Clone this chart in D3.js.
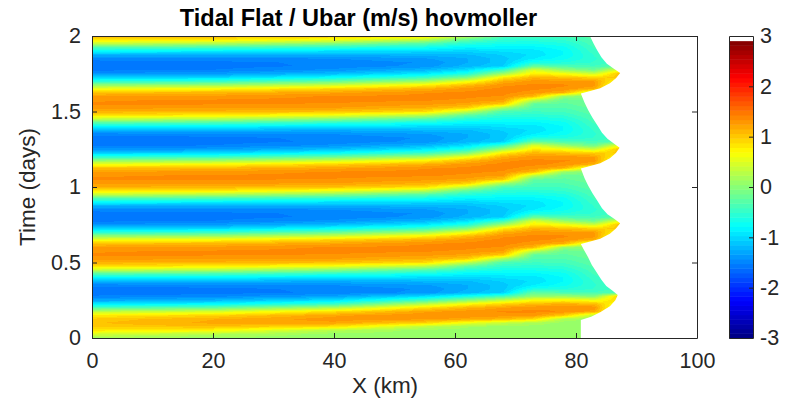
<!DOCTYPE html>
<meta charset="utf-8">
<style>
body { margin: 0; background: #fff; }
text { font-family: "Liberation Sans", Arial, Helvetica, sans-serif; fill: #262626; }
.axis { color: #262626; }
.axis text { font-size: 21.5px; fill: #262626; }
.title { font-size: 23.5px; font-weight: bold; fill: #000; }
.label { font-size: 22.5px; }
</style>
<svg width="790" height="401"></svg>
<script src="https://d3js.org/d3.v7.min.js"></script>
<script>

// sample grid
var timeDays = [
  0, 0.025, 0.05, 0.075, 0.1, 0.125, 0.15, 0.175, 0.2, 0.225,
  0.25, 0.275, 0.3, 0.325, 0.35, 0.375, 0.4, 0.425, 0.45, 0.475,
  0.5, 0.525, 0.55, 0.575, 0.6, 0.625, 0.65, 0.675, 0.7, 0.725,
  0.75, 0.775, 0.8, 0.825, 0.85, 0.875, 0.9, 0.925, 0.95, 0.975,
  1, 1.025, 1.05, 1.075, 1.1, 1.125, 1.15, 1.175, 1.2, 1.225,
  1.25, 1.275, 1.3, 1.325, 1.35, 1.375, 1.4, 1.425, 1.45, 1.475,
  1.5, 1.525, 1.55, 1.575, 1.6, 1.625, 1.65, 1.675, 1.7, 1.725,
  1.75, 1.775, 1.8, 1.825, 1.85, 1.875, 1.9, 1.925, 1.95, 1.975,
  2
];
var xKm = [0, 20, 40, 55, 62, 68, 73, 78, 83, 88];

// ubar (m/s) along time at each x station
var ubarAt0km = [
  0.15, 0.45, 0.8, 1.0, 1.05, 1.0, 0.78, 0.3, -0.35, -0.9, -1.3, -1.5,
  -1.6, -1.57, -1.48, -1.2, -0.8, -0.3, 0.35, 0.85, 1.15, 1.28, 1.35, 1.33, 1.25, 1.05, 0.6, 0.05, -0.55, -1.05, -1.4, -1.55,
  -1.6, -1.57, -1.48, -1.2, -0.8, -0.3, 0.35, 0.85, 1.15, 1.28, 1.35, 1.33, 1.25, 1.05, 0.6, 0.05, -0.55, -1.05, -1.4, -1.55,
  -1.6, -1.57, -1.48, -1.2, -0.8, -0.3, 0.35, 0.85, 1.15, 1.28, 1.35, 1.33, 1.25, 1.05, 0.6, 0.05, -0.55, -1.05, -1.4, -1.55,
  -1.6, -1.57, -1.48, -1.2, -0.8, -0.3, 0.35, 0.85, 1.15
];
var ubarAt20km = [
  0.1, 0.25, 0.7, 1.05, 1.18, 1.15, 0.92, 0.45, -0.2, -0.8, -1.2, -1.45,
  -1.57, -1.55, -1.47, -1.22, -0.85, -0.38, 0.25, 0.8, 1.12, 1.27, 1.35, 1.35, 1.28, 1.1, 0.7, 0.12, -0.48, -1.0, -1.35, -1.52,
  -1.57, -1.55, -1.47, -1.22, -0.85, -0.38, 0.25, 0.8, 1.12, 1.27, 1.35, 1.35, 1.28, 1.1, 0.7, 0.12, -0.48, -1.0, -1.35, -1.52,
  -1.57, -1.55, -1.47, -1.22, -0.85, -0.38, 0.25, 0.8, 1.12, 1.27, 1.35, 1.35, 1.28, 1.1, 0.7, 0.12, -0.48, -1.0, -1.35, -1.52,
  -1.57, -1.55, -1.47, -1.22, -0.85, -0.38, 0.25, 0.8, 1.12
];
var ubarAt40km = [
  0.1, 0.1, 0.25, 0.85, 1.22, 1.3, 1.22, 0.88, 0.25, -0.45, -0.95, -1.3,
  -1.5, -1.5, -1.43, -1.25, -0.95, -0.55, 0.0, 0.6, 1.05, 1.25, 1.33, 1.37, 1.35, 1.22, 0.95, 0.4, -0.2, -0.75, -1.15, -1.4,
  -1.5, -1.5, -1.43, -1.25, -0.95, -0.55, 0.0, 0.6, 1.05, 1.25, 1.33, 1.37, 1.35, 1.22, 0.95, 0.4, -0.2, -0.75, -1.15, -1.4,
  -1.5, -1.5, -1.43, -1.25, -0.95, -0.55, 0.0, 0.6, 1.05, 1.25, 1.33, 1.37, 1.35, 1.22, 0.95, 0.4, -0.2, -0.75, -1.15, -1.4,
  -1.5, -1.5, -1.43, -1.25, -0.95, -0.55, 0.0, 0.6, 1.05
];
var ubarAt55km = [
  0.1, 0.1, 0.1, 0.3, 0.95, 1.27, 1.33, 1.22, 0.88, 0.3, -0.4, -0.95,
  -1.4, -1.42, -1.35, -1.2, -0.98, -0.68, -0.3, 0.3, 0.9, 1.15, 1.28, 1.35, 1.37, 1.33, 1.15, 0.75, 0.15, -0.45, -0.9, -1.2,
  -1.4, -1.42, -1.35, -1.2, -0.98, -0.68, -0.3, 0.3, 0.9, 1.15, 1.28, 1.35, 1.37, 1.33, 1.15, 0.75, 0.15, -0.45, -0.9, -1.2,
  -1.4, -1.42, -1.35, -1.2, -0.98, -0.68, -0.3, 0.3, 0.9, 1.15, 1.28, 1.35, 1.37, 1.33, 1.15, 0.75, 0.15, -0.45, -0.9, -1.2,
  -1.4, -1.42, -1.35, -1.2, -0.98, -0.68, -0.3, 0.3, 0.9
];
var ubarAt62km = [
  0.1, 0.1, 0.1, 0.15, 0.6, 1.2, 1.32, 1.3, 1.12, 0.7, 0.0, -0.65,
  -1.2, -1.25, -1.25, -1.17, -1.02, -0.82, -0.58, -0.25, 0.35, 1.0, 1.22, 1.32, 1.36, 1.36, 1.3, 1.08, 0.6, -0.05, -0.6, -0.95,
  -1.2, -1.25, -1.25, -1.17, -1.02, -0.82, -0.58, -0.25, 0.35, 1.0, 1.22, 1.32, 1.36, 1.36, 1.3, 1.08, 0.6, -0.05, -0.6, -0.95,
  -1.2, -1.25, -1.25, -1.17, -1.02, -0.82, -0.58, -0.25, 0.35, 1.0, 1.22, 1.32, 1.36, 1.36, 1.3, 1.08, 0.6, -0.05, -0.6, -0.95,
  -1.2, -1.25, -1.25, -1.17, -1.02, -0.82, -0.58, -0.25, 0.35
];
var ubarAt68km = [
  0.1, 0.1, 0.1, 0.1, 0.35, 1.1, 1.3, 1.35, 1.25, 0.95, 0.35, -0.35,
  -1.05, -1.1, -1.1, -1.05, -0.95, -0.82, -0.68, -0.52, -0.35, 0.2, 1.0, 1.25, 1.33, 1.37, 1.37, 1.32, 1.15, 0.8, 0.15, -0.45,
  -1.05, -1.1, -1.1, -1.05, -0.95, -0.82, -0.68, -0.52, -0.35, 0.2, 1.0, 1.25, 1.33, 1.37, 1.37, 1.32, 1.15, 0.8, 0.15, -0.45,
  -1.05, -1.1, -1.1, -1.05, -0.95, -0.82, -0.68, -0.52, -0.35, 0.2, 1.0, 1.25, 1.33, 1.37, 1.37, 1.32, 1.15, 0.8, 0.15, -0.45,
  -1.05, -1.1, -1.1, -1.05, -0.95, -0.82, -0.68, -0.52, -0.35
];
var ubarAt73km = [
  0.1, 0.1, 0.1, 0.1, 0.2, 0.9, 1.3, 1.36, 1.32, 1.1, 0.7, 0.1,
  -0.2, -0.65, -0.88, -0.95, -0.92, -0.82, -0.68, -0.55, -0.42, -0.32, -0.22, 0.3, 1.1, 1.3, 1.36, 1.36, 1.3, 1.12, 0.8, 0.5,
  -0.2, -0.65, -0.88, -0.95, -0.92, -0.82, -0.68, -0.55, -0.42, -0.32, -0.22, 0.3, 1.1, 1.3, 1.36, 1.36, 1.3, 1.12, 0.8, 0.5,
  -0.2, -0.65, -0.88, -0.95, -0.92, -0.82, -0.68, -0.55, -0.42, -0.32, -0.22, 0.3, 1.1, 1.3, 1.36, 1.36, 1.3, 1.12, 0.8, 0.5,
  -0.2, -0.65, -0.88, -0.95, -0.92, -0.82, -0.68, -0.55, -0.42
];
var ubarAt78km = [
  0.1, 0.1, 0.1, 0.1, 0.1, 0.2, 1.0, 1.33, 1.33, 1.15, 0.75, 0.15,
  -0.35, -0.6, -0.72, -0.78, -0.78, -0.72, -0.62, -0.5, -0.4, -0.32, -0.25, -0.2, 0.1, 1.15, 1.32, 1.35, 1.28, 1.05, 0.65, 0.1,
  -0.35, -0.6, -0.72, -0.78, -0.78, -0.72, -0.62, -0.5, -0.4, -0.32, -0.25, -0.2, 0.1, 1.15, 1.32, 1.35, 1.28, 1.05, 0.65, 0.1,
  -0.35, -0.6, -0.72, -0.78, -0.78, -0.72, -0.62, -0.5, -0.4, -0.32, -0.25, -0.2, 0.1, 1.15, 1.32, 1.35, 1.28, 1.05, 0.65, 0.1,
  -0.35, -0.6, -0.72, -0.78, -0.78, -0.72, -0.62, -0.5, -0.4
];
var ubarAt83km = [
  0.1, 0.1, 0.1, 0.1, 0.1, 0.1, 0.3, 1.2, 1.32, 1.1, 0.6, 0.0,
  -0.4, -0.5, -0.52, -0.5, -0.45, -0.4, -0.35, -0.3, -0.25, -0.2, -0.15, -0.1, -0.05, 0.3, 1.15, 1.3, 1.25, 0.95, 0.4, -0.15,
  -0.4, -0.5, -0.52, -0.5, -0.45, -0.4, -0.35, -0.3, -0.25, -0.2, -0.15, -0.1, -0.05, 0.3, 1.15, 1.3, 1.25, 0.95, 0.4, -0.15,
  -0.4, -0.5, -0.52, -0.5, -0.45, -0.4, -0.35, -0.3, -0.25, -0.2, -0.15, -0.1, -0.05, 0.3, 1.15, 1.3, 1.25, 0.95, 0.4, -0.15,
  -0.4, -0.5, -0.52, -0.5, -0.45, -0.4, -0.35, -0.3, -0.25
];
var ubarAt88km = [
  0.1, 0.1, 0.1, 0.1, 0.1, 0.1, 0.1, 0.1, 0.1, 0.5, 1.0, 1.2,
  -0.3, -0.35, -0.38, -0.38, -0.35, -0.32, -0.28, -0.25, -0.2, -0.15, -0.1, -0.05, 0.0, 0.05, 0.1, 0.2, 0.5, 1.0, 1.2, 0.7,
  -0.3, -0.35, -0.38, -0.38, -0.35, -0.32, -0.28, -0.25, -0.2, -0.15, -0.1, -0.05, 0.0, 0.05, 0.1, 0.2, 0.5, 1.0, 1.2, 0.7,
  -0.3, -0.35, -0.38, -0.38, -0.35, -0.32, -0.28, -0.25, -0.2, -0.15, -0.1, -0.05, 0.0, 0.05, 0.1, 0.2, 0.5, 1.0, 1.2, 0.7,
  -0.3, -0.35, -0.38, -0.38, -0.35, -0.32, -0.28, -0.25, -0.2
];
var ubarColumns = [ubarAt0km, ubarAt20km, ubarAt40km, ubarAt55km, ubarAt62km,
                   ubarAt68km, ubarAt73km, ubarAt78km, ubarAt83km, ubarAt88km];

// wet/dry edge (km) of the flat through time
var edgeT = [0, 0.12, 0.14, 0.17, 0.21, 0.25, 0.285, 0.315, 0.345, 0.385, 0.435, 0.485, 0.535, 0.585, 0.623,
             0.64, 0.657, 0.69, 0.725, 0.76, 0.79, 0.82, 0.86, 0.91, 0.96, 1.01, 1.06, 1.123,
             1.14, 1.157, 1.19, 1.225, 1.26, 1.29, 1.32, 1.36, 1.41, 1.46, 1.51, 1.56, 1.62,
             1.637, 1.654, 1.687, 1.72, 1.755, 1.785, 1.817, 1.86, 1.905, 1.95, 2];
var edgeX = [80.8, 80.8, 82.5, 84.0, 85.6, 86.5, 86.9, 86.0, 85.0, 84.2, 83.4, 82.6, 82.0, 81.3, 80.8,
             82.5, 84.0, 85.6, 86.6, 87.3, 86.3, 85.2, 84.3, 83.5, 82.7, 82.0, 81.4, 80.8,
             82.5, 84.0, 85.6, 86.6, 87.2, 86.2, 85.2, 84.3, 83.5, 82.7, 82.0, 81.4, 80.8,
             82.5, 84.0, 85.6, 86.6, 87.3, 86.2, 85.1, 84.2, 83.5, 82.9, 82.3];

var xTicks = [0, 20, 40, 60, 80, 100],
    yTicks = [0, 0.5, 1, 1.5, 2],
    cbTicks = [-3, -2, -1, 0, 1, 2, 3];

var svg = d3.select("svg"),
    margin = {top: 36, left: 92},
    width = 605,
    height = 302;

var x = d3.scaleLinear().domain([0, 100]).range([0, width]),
    y = d3.scaleLinear().domain([0, 2]).range([height, 0]);

// jet(64) with a white top entry
var cmap = d3.range(64).map(function(i) {
  var v = (i + 0.5) / 64;
  var f = function(c) { return Math.round(255 * Math.max(0, Math.min(1, 1.5 - Math.abs(4 * v - c)))); };
  return d3.rgb(f(3), f(2), f(1)).formatHex();
});
cmap.push("#ffffff");
var color = d3.scaleQuantize().domain([-3, 3]).range(cmap);
var cmapRgb = {};
cmap.forEach(function(c) { cmapRgb[c] = d3.rgb(c); });

var g = svg.append("g")
    .attr("transform", "translate(" + margin.left + "," + margin.top + ")");

// field raster
var col = d3.scaleLinear().domain(xKm).range(d3.range(xKm.length)).clamp(true),
    row = d3.scaleLinear().domain(timeDays).range(d3.range(timeDays.length)).clamp(true);

var canvas = document.createElement("canvas");
canvas.width = width;
canvas.height = height;
var ctx = canvas.getContext("2d");
var img = ctx.createImageData(width, height);
var nx = xKm.length, nt = timeDays.length;
for (var py = 0; py < height; py++) {
  var ri = row(y.invert(py + 0.5)),
      r0 = Math.floor(ri), r1 = Math.min(r0 + 1, nt - 1), fr = ri - r0;
  for (var px = 0; px < width; px++) {
    var ci = col(x.invert(px + 0.5)),
        c0 = Math.floor(ci), c1 = Math.min(c0 + 1, nx - 1), fc = ci - c0;
    var v = (1 - fr) * ((1 - fc) * ubarColumns[c0][r0] + fc * ubarColumns[c1][r0]) +
            fr * ((1 - fc) * ubarColumns[c0][r1] + fc * ubarColumns[c1][r1]);
    var c = cmapRgb[color(v)], k = 4 * (py * width + px);
    img.data[k] = c.r; img.data[k + 1] = c.g; img.data[k + 2] = c.b; img.data[k + 3] = 255;
  }
}
ctx.putImageData(img, 0, 0);

g.append("image")
    .attr("width", width)
    .attr("height", height)
    .attr("preserveAspectRatio", "none")
    .attr("href", canvas.toDataURL());

// dry part of the flat
var edge = edgeT.map(function(t, i) { return {t: t, x: edgeX[i]}; });
var dry = d3.area()
    .y(function(d) { return y(d.t); })
    .x0(function(d) { return x(d.x); })
    .x1(x(100));
g.append("path").datum(edge).attr("d", dry).attr("fill", "#fff");

// axes with box and inward ticks
g.append("g").attr("class", "axis")
    .attr("transform", "translate(0," + height + ")")
    .call(d3.axisBottom(x).tickValues(xTicks).tickSizeInner(-5).tickSizeOuter(0)
      .tickPadding(14.5).tickFormat(function(d) { return d; }));
g.append("g").attr("class", "axis")
    .call(d3.axisLeft(y).tickValues(yTicks).tickSizeInner(-5).tickSizeOuter(0)
      .tickPadding(11).tickFormat(function(d) { return d; }));
g.append("g").attr("class", "axis")
    .call(d3.axisTop(x).tickValues(xTicks).tickSizeInner(-5).tickSizeOuter(0).tickFormat(""));
g.append("g").attr("class", "axis")
    .attr("transform", "translate(" + width + ",0)")
    .call(d3.axisRight(y).tickValues(yTicks).tickSizeInner(-5).tickSizeOuter(0).tickFormat(""));

// colorbar
var cb = d3.scaleLinear().domain([-3, 3]).range([height, 0]),
    cbg = svg.append("g").attr("transform", "translate(729," + margin.top + ")"),
    cbWidth = 24;
cbg.selectAll("rect.cell")
  .data(cmap)
  .enter().append("rect")
    .attr("class", "cell")
    .attr("x", 0)
    .attr("width", cbWidth)
    .attr("y", function(d) { return cb(color.invertExtent(d)[1]); })
    .attr("height", function(d) { var e = color.invertExtent(d); return cb(e[0]) - cb(e[1]) + 0.5; })
    .attr("fill", function(d) { return d; });
cbg.append("g").attr("class", "axis")
    .attr("transform", "translate(" + cbWidth + ",0)")
    .call(d3.axisRight(cb).tickValues(cbTicks).tickSizeInner(-4).tickSizeOuter(0)
      .tickPadding(7).tickFormat(function(d) { return d; }));
cbg.append("g").attr("class", "axis")
    .call(d3.axisLeft(cb).tickValues([]).tickSizeOuter(0));
cbg.append("g").attr("class", "axis")
    .call(d3.axisTop(d3.scaleLinear().range([0, cbWidth])).tickValues([]).tickSizeOuter(0));
cbg.append("g").attr("class", "axis")
    .attr("transform", "translate(0," + height + ")")
    .call(d3.axisBottom(d3.scaleLinear().range([0, cbWidth])).tickValues([]).tickSizeOuter(0));

// titles
svg.append("text").attr("class", "title")
    .attr("x", 358.5).attr("y", 26)
    .attr("text-anchor", "middle")
    .text("Tidal Flat / Ubar (m/s) hovmoller");
svg.append("text").attr("class", "label")
    .attr("x", 385).attr("y", 393)
    .attr("text-anchor", "middle")
    .text("X (km)");
svg.append("text").attr("class", "label")
    .attr("transform", "translate(35," + (margin.top + height / 2) + ") rotate(-90)")
    .attr("text-anchor", "middle")
    .text("Time (days)");

</script>
